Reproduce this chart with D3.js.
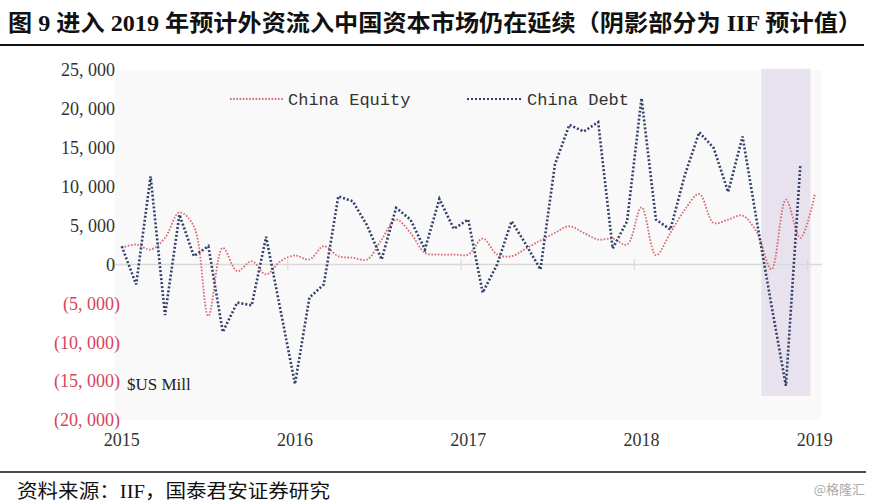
<!DOCTYPE html>
<html><head><meta charset="utf-8">
<script src="https://cdn.jsdelivr.net/npm/d3@7"></script>
<style>body{margin:0;background:#fff}</style>
</head><body><svg id="c" width="871" height="504"></svg>
<script>
const months = ["2015-01","2015-02","2015-03","2015-04","2015-05","2015-06","2015-07","2015-08","2015-09","2015-10","2015-11","2015-12",
"2016-01","2016-02","2016-03","2016-04","2016-05","2016-06","2016-07","2016-08","2016-09","2016-10","2016-11","2016-12",
"2017-01","2017-02","2017-03","2017-04","2017-05","2017-06","2017-07","2017-08","2017-09","2017-10","2017-11","2017-12",
"2018-01","2018-02","2018-03","2018-04","2018-05","2018-06","2018-07","2018-08","2018-09","2018-10","2018-11","2018-12","2019-01"];
const equity = [2140,2560,1920,3420,6700,4900,-6630,2140,-860,420,-1280,420,
1150,640,2350,1060,860,640,3200,5770,4060,1500,1280,1280,
1280,3330,1280,1060,2050,3080,4060,4910,4060,3200,3330,2560,
7350,1190,4060,7050,9060,5340,5770,6280,4060,-640,8330,3420,8970];
const debt = [2350,-2560,11320,-6500,6400,1060,2350,-8680,-4900,-5260,3550,-5900,
-15380,-4270,-2560,8760,8120,5000,640,7270,5770,1920,8420,4580,
5770,-3630,0,5550,2560,-640,12820,17950,17090,18290,2050,5550,
21370,5770,4490,11500,17000,14960,9320,16450,5380,-5260,-15600,12820];
const yTicks = [25000,20000,15000,10000,5000,0,-5000,-10000,-15000,-20000];
const yearLabels = ["2015","2016","2017","2018","2019"];
const yearIndex = [0,12,24,36,48];
const yearTickIndex = [-0.5,11.5,23.5,35.5,47.5];
const shadeX = [44.3,47.7];
const shadeY = [25150,-16900];
const seriesNames = ["China Equity","China Debt"];

const svg = d3.select("#c");
const x = d3.scaleLinear().domain([-0.5,48.5]).range([114.5,822]);
const y = d3.scaleLinear().domain([-20000,25000]).range([420,70]);

// title
svg.append("text").attr("x",8).attr("y",31)
  .attr("font-family","'Liberation Serif','Noto Sans CJK SC'").attr("font-weight","bold")
  .attr("font-size",23).attr("fill","#111")
  .attr("textLength",854).attr("lengthAdjust","spacingAndGlyphs")
  .text("图 9 进入 2019 年预计外资流入中国资本市场仍在延续（阴影部分为 IIF 预计值）");
svg.append("line").attr("x1",0).attr("x2",864).attr("y1",45).attr("y2",45).attr("stroke","#111").attr("stroke-width",2);

// plot background
svg.append("rect").attr("x",x(-0.5)).attr("y",y(25000)).attr("width",x(48.5)-x(-0.5)).attr("height",y(-20000)-y(25000))
  .attr("rx",4).attr("fill","#f9f9f9");

// shading
svg.append("rect").attr("x",x(shadeX[0])).attr("y",y(shadeY[0]))
  .attr("width",x(shadeX[1])-x(shadeX[0])).attr("height",y(shadeY[1])-y(shadeY[0]))
  .attr("fill","#e8e2ee");

// zero line & ticks
svg.append("line").attr("x1",x(-0.5)).attr("x2",x(48.5)).attr("y1",y(0)).attr("y2",y(0)).attr("stroke","#d9d9d9").attr("stroke-width",1.5);
svg.selectAll(".xt").data(yearTickIndex).enter().append("line")
  .attr("x1",d=>x(d)).attr("x2",d=>x(d)).attr("y1",y(0)-5).attr("y2",y(0)+5).attr("stroke","#d9d9d9").attr("stroke-width",1.2);

// y labels
const fmt = d => d===0 ? "0" : (d<0 ? "(" + d3.format(",")(-d).replace(",",", ") + ")" : d3.format(",")(d).replace(",",", "));
svg.selectAll(".yl").data(yTicks).enter().append("text")
  .attr("x",d=>d<0?120:115).attr("y",d=>y(d)).attr("dy","0.35em").attr("text-anchor","end")
  .attr("font-family","'Liberation Serif'").attr("font-size",18)
  .attr("fill",d=>d<0?"#d6445a":"#333").text(fmt);

// x labels
svg.selectAll(".xl").data(yearLabels).enter().append("text")
  .attr("x",(d,i)=>x(yearIndex[i])).attr("y",446).attr("text-anchor","middle")
  .attr("font-family","'Liberation Serif'").attr("font-size",18).attr("fill","#333").text(d=>d);

// lines
const lineEq = d3.line().x((d,i)=>x(i)).y(d=>y(d)).curve(d3.curveCatmullRom.alpha(0.5));
const lineDebt = d3.line().x((d,i)=>x(i)).y(d=>y(d));
svg.append("path").datum(equity).attr("d",lineEq).attr("fill","none")
  .attr("stroke","#d86a72").attr("stroke-width",1.8).attr("stroke-dasharray","1.6,1.6");
svg.append("path").datum(debt).attr("d",lineDebt).attr("fill","none")
  .attr("stroke","#33406a").attr("stroke-width",2.6).attr("stroke-dasharray","2,2");

// legend
const lg = [{n:seriesNames[0],x1:230,x2:283,tx:288,c:"#d86a72",w:1.8,da:"1.6,1.6"},
            {n:seriesNames[1],x1:467,x2:521,tx:527,c:"#33406a",w:2.2,da:"2,2"}];
lg.forEach(l=>{
  svg.append("line").attr("x1",l.x1).attr("x2",l.x2).attr("y1",99).attr("y2",99)
    .attr("stroke",l.c).attr("stroke-width",l.w).attr("stroke-dasharray",l.da);
  svg.append("text").attr("x",l.tx).attr("y",99).attr("dy","0.35em")
    .attr("font-family","'Liberation Mono'").attr("font-size",17).attr("fill","#333").text(l.n);
});

svg.append("text").attr("x",127).attr("y",390).attr("font-family","'Liberation Serif'")
  .attr("font-size",17).attr("fill","#222").text("$US Mill");

// footer
svg.append("line").attr("x1",0).attr("x2",866).attr("y1",472).attr("y2",472).attr("stroke","#111").attr("stroke-width",1.5);
svg.append("text").attr("x",17).attr("y",498)
  .attr("font-family","'Liberation Serif','Noto Sans CJK SC'").attr("font-size",19).attr("fill","#111")
  .attr("textLength",313).attr("lengthAdjust","spacingAndGlyphs")
  .text("资料来源：IIF，国泰君安证券研究");
svg.append("text").attr("x",865).attr("y",494).attr("text-anchor","end")
  .attr("font-family","'Noto Sans CJK SC'").attr("font-size",13).attr("fill","#aaa").text("@格隆汇");
</script></body></html>
